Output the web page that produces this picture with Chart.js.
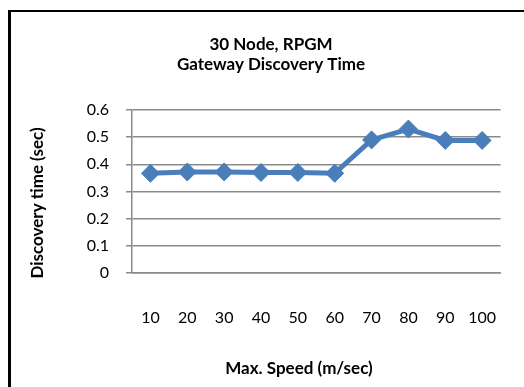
<!DOCTYPE html>
<html>
<head>
<meta charset="utf-8">
<script src="https://cdn.jsdelivr.net/npm/chart.js@4"></script>
<style>
    body { margin: 0; background: #fff; overflow: hidden; }
    #frame { position: absolute; left: 8px; top: 10px; width: 600px; height: 500px;
             border-left: 3px solid #000; border-top: 2px solid #000; }
    #wrap { position: absolute; left: 0; top: 0; width: 524px; height: 387px; }
</style>
</head>
<body>
<div id="frame"></div>
<div id="wrap"><canvas id="grafico" width="524" height="387"></canvas></div>
<script>
    const velocidades = ['10', '20', '30', '40', '50', '60', '70', '80', '90', '100']
    const tempos = [0.367, 0.372, 0.372, 0.370, 0.370, 0.367, 0.490, 0.530, 0.488, 0.488]
    const titulo = ['30 Node, RPGM', 'Gateway Discovery Time']
    const tituloX = 'Max. Speed (m/sec)'
    const tituloY = 'Discovery time (sec)'

    const fonte = 'Lato'
    const azul = '#4a7ebb'
    const cinza = '#8a8a8a'

    // axis titles are not centred on the plot in the original, so draw them by hand
    const titulosEixos = {
        id: 'titulosEixos',
        afterDraw: chart => {
            const ctx = chart.ctx
            ctx.save()
            ctx.font = 'bold 17px ' + fonte
            ctx.fillStyle = '#000'
            ctx.textAlign = 'center'
            ctx.textBaseline = 'middle'
            ctx.fillText(tituloX, 299, 369)
            ctx.translate(38, 203)
            ctx.rotate(-Math.PI / 2)
            ctx.fillText(tituloY, 0, 0)
            ctx.restore()
        }
    }

    const ctx = document.getElementById('grafico').getContext('2d')

    new Chart(ctx, {
        type: 'line',
        data: {
            labels: velocidades,
            datasets: [{
                data: tempos,
                borderColor: azul,
                backgroundColor: azul,
                borderWidth: 5,
                pointStyle: 'rectRot',
                pointRadius: 9,
                pointBorderWidth: 1,
                pointBackgroundColor: azul,
                pointBorderColor: azul,
                fill: false,
                tension: 0
            }]
        },
        options: {
            responsive: false,
            animation: false,
            layout: { padding: { left: 37, right: 19, top: 0, bottom: 0 } },
            plugins: {
                legend: { display: false },
                tooltip: { enabled: false },
                title: {
                    display: true,
                    text: titulo,
                    color: '#000',
                    font: { family: fonte, size: 17, weight: 'bold', lineHeight: '20px' },
                    padding: { top: 35, bottom: 35 }
                }
            },
            scales: {
                x: {
                    offset: true,
                    grid: { display: false },
                    border: { display: true, color: cinza, width: 1.5 },
                    ticks: { color: '#000', font: { family: fonte, size: 16 }, padding: 27, maxRotation: 0 },
                    afterFit: s => { s.height = 114 }
                },
                y: {
                    min: 0,
                    max: 0.6,
                    ticks: {
                        stepSize: 0.1,
                        color: '#000',
                        font: { family: fonte, size: 16 },
                        padding: 17,
                        callback: v => +v.toFixed(1)
                    },
                    grid: { color: cinza, lineWidth: 1.5, tickLength: 6 },
                    border: { display: true, color: cinza, width: 1.5 },
                    afterFit: s => { s.width = 95 }
                }
            }
        },
        plugins: [titulosEixos]
    })
</script>
</body>
</html>
